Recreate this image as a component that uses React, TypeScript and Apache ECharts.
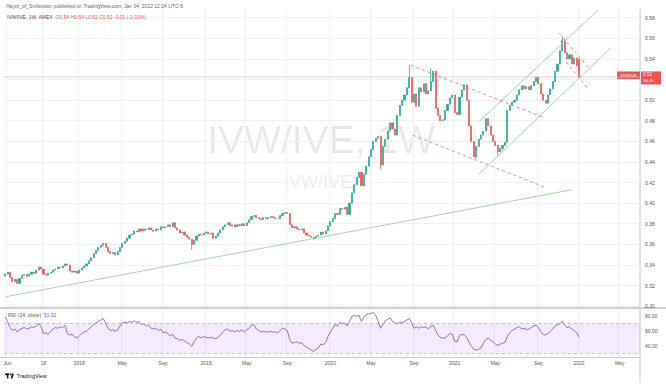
import React, { useEffect, useRef } from "react";
import * as echarts from "echarts";

const START_DATE = "2017-05-29";
const FUTURE_WEEKS = 25;
const FIRST_OPEN = 0.329;

const closes: number[] = [
  0.331, 0.333, 0.328, 0.324, 0.326, 0.322, 0.327, 0.33, 0.331, 0.329,
  0.331, 0.333, 0.332, 0.335, 0.338, 0.336, 0.331, 0.33, 0.332, 0.333,
  0.335, 0.336, 0.338, 0.337, 0.339, 0.341, 0.34, 0.334, 0.333, 0.334,
  0.332, 0.335, 0.337, 0.339, 0.341, 0.344, 0.347, 0.351, 0.354, 0.357,
  0.359, 0.361, 0.357, 0.353, 0.351, 0.352, 0.35, 0.353, 0.357, 0.361,
  0.363, 0.366, 0.369, 0.37, 0.373, 0.372, 0.375, 0.373, 0.375, 0.374,
  0.376, 0.374, 0.373, 0.375, 0.374, 0.377, 0.376, 0.377, 0.379, 0.377,
  0.381, 0.376, 0.374, 0.371, 0.372, 0.369, 0.367, 0.365, 0.36, 0.364,
  0.368, 0.37, 0.369, 0.371, 0.372, 0.37, 0.371, 0.366, 0.368, 0.371,
  0.374, 0.377, 0.379, 0.381, 0.378, 0.379, 0.377, 0.379, 0.378, 0.38,
  0.378, 0.381, 0.384, 0.387, 0.388, 0.386, 0.385, 0.384, 0.386, 0.385,
  0.386, 0.387, 0.386, 0.385, 0.385, 0.388, 0.39, 0.391, 0.39, 0.379,
  0.376, 0.377, 0.375, 0.374, 0.375, 0.371, 0.369, 0.368, 0.367, 0.366,
  0.368, 0.369, 0.372, 0.37, 0.373, 0.378, 0.382, 0.385, 0.39, 0.389,
  0.395, 0.394, 0.396, 0.389, 0.4, 0.41, 0.418, 0.425, 0.43, 0.417,
  0.428, 0.436, 0.445, 0.452, 0.46, 0.463, 0.465, 0.437, 0.455, 0.462,
  0.47, 0.478, 0.472, 0.466, 0.485, 0.495, 0.5, 0.505, 0.512, 0.522,
  0.498, 0.506, 0.494, 0.512, 0.508, 0.516, 0.506, 0.509, 0.518, 0.528,
  0.492, 0.485, 0.48, 0.481, 0.49, 0.496, 0.502, 0.505, 0.488, 0.486,
  0.503, 0.51, 0.515, 0.5, 0.475, 0.46, 0.445, 0.455, 0.462, 0.466,
  0.47, 0.482, 0.475, 0.466, 0.46, 0.456, 0.45, 0.453, 0.456, 0.459,
  0.49, 0.495, 0.498, 0.5, 0.505, 0.51, 0.514, 0.511, 0.513, 0.51,
  0.514, 0.518, 0.522, 0.516, 0.506, 0.5, 0.497, 0.505, 0.511, 0.518,
  0.528, 0.535, 0.548, 0.558, 0.546, 0.54, 0.544, 0.535, 0.541, 0.5332,
  0.5225,
];

const rsiValues: number[] = [
  78, 72, 64, 60, 62, 58, 61, 63, 64, 62,
  63, 65, 64, 66, 70, 65, 56, 57, 55, 59,
  62, 64, 63, 65, 64, 67, 56, 54, 55, 52,
  50, 53, 56, 58, 59, 62, 65, 68, 70, 72,
  74, 76, 70, 63, 60, 61, 59, 61, 66, 70,
  71, 70, 72, 71, 73, 70, 72, 68, 69, 66,
  67, 63, 62, 63, 60, 62, 57, 58, 56, 53,
  55, 50, 49, 47, 48, 46, 44, 42, 39, 45,
  50, 52, 50, 52, 51, 50, 51, 50, 49, 51,
  54, 58, 61, 62, 59, 60, 58, 60, 59, 61,
  58, 61, 63, 67, 68, 62, 60, 58, 59, 58,
  58, 59, 58, 58, 57, 60, 63, 62, 60, 48,
  43, 44, 45, 43, 44, 40, 38, 36, 34, 32,
  35, 37, 42, 41, 44, 52, 58, 63, 68, 66,
  71, 69, 70, 66, 72, 79, 80, 79, 80, 72,
  78, 81, 82, 83, 84, 80, 72, 63, 68, 73,
  75, 77, 72, 70, 69, 71, 70, 72, 74, 76,
  70, 63, 65, 63, 65, 64, 65, 62, 66, 67,
  60, 54, 51, 50, 50, 53, 56, 55, 46, 45,
  53, 55, 54, 51, 44, 39, 35, 34, 35, 37,
  43, 48, 50, 47, 45, 42, 40, 42, 43, 44,
  52, 57, 60, 62, 64, 65, 62, 63, 61, 62,
  64, 66, 67, 64, 58, 55, 54, 56, 59, 62,
  66, 68, 69, 73, 67, 64, 65, 62, 60, 57,
  51.32,
];

const openOverrideIndex = [240];
const openOverrideValue = [0.54];
const wickHighIndex = [169, 178, 233];
const wickHighValue = [0.534, 0.531, 0.562];
const wickLowIndex = [78, 129, 157, 197, 206];
const wickLowValue = [0.355, 0.364, 0.433, 0.443, 0.446];

const tickDates = [
  "2017-06-05", "2017-09-18", "2018-01-01", "2018-05-07", "2018-09-03", "2019-01-07",
  "2019-05-06", "2019-09-02", "2020-01-06", "2020-05-04", "2020-09-07", "2021-01-04",
  "2021-05-03", "2021-09-06", "2022-01-03", "2022-05-02",
];
const tickLabels = [
  "Jun", "18", "2018", "May", "Sep", "2019", "May", "Sep", "2020", "May", "Sep", "2021",
  "May", "Sep", "2022", "May",
];
const priceTicks = [0.3, 0.32, 0.34, 0.36, 0.38, 0.4, 0.42, 0.44, 0.46, 0.48, 0.5, 0.52, 0.54, 0.56, 0.58];
const priceLabels = [0.3, 0.32, 0.34, 0.36, 0.38, 0.4, 0.42, 0.44, 0.46, 0.48, 0.5, 0.54, 0.56, 0.58];
const rsiTicks = [40, 60, 80];

// drawn lines: [weekIndex, price] endpoints
const supportLine = [[0, 0.309], [237, 0.413]];
const redUpper = [[169.6, 0.534], [225.3, 0.483]];
const redLower = [[170.5, 0.466], [226.2, 0.415]];
const greenUpper = [[198.1, 0.479], [248, 0.5875]];
const greenLower = [[198.1, 0.428], [253.4, 0.551]];
const redSmallA = [[231.6, 0.565], [245, 0.529]];
const redSmallB = [[234.6, 0.537], [244.2, 0.51]];

const FONT = "Liberation Sans, Arial, sans-serif";
const UP = "#26a69a";
const DOWN = "#ef5350";

export default function App() {
  const ref = useRef<HTMLDivElement>(null);

  useEffect(() => {
    if (!ref.current) return;
    const chart = echarts.init(ref.current, null, { renderer: "svg" });

    const N = closes.length + FUTURE_WEEKS;
    const t0 = Date.parse(START_DATE + "T00:00:00Z");
    const categories = Array.from({ length: N }, (_, k) =>
      new Date(t0 + k * 7 * 86400000).toISOString().slice(0, 10)
    );

    const opens = closes.map((c, i) => {
      const k = openOverrideIndex.indexOf(i);
      if (k >= 0) return openOverrideValue[k];
      return i === 0 ? FIRST_OPEN : closes[i - 1];
    });
    const candles = closes.map((c, i) => {
      const o = opens[i];
      let lo = Math.min(o, c);
      let hi = Math.max(o, c);
      const hk = wickHighIndex.indexOf(i);
      if (hk >= 0) hi = Math.max(hi, wickHighValue[hk]);
      const lk = wickLowIndex.indexOf(i);
      if (lk >= 0) lo = Math.min(lo, wickLowValue[lk]);
      return [o, c, lo, hi];
    });

    const isTick = (_idx: number, val: string) => tickDates.indexOf(val) >= 0;
    const tickLabel = (val: string) => {
      const k = tickDates.indexOf(val);
      return k >= 0 ? tickLabels[k] : "";
    };

    const gridLine = { color: "#eff1f5", width: 1 };
    const lastIdx = closes.length - 1;
    const lastClose = closes[lastIdx];
    const lastOpen = opens[lastIdx];
    const prevClose = closes[lastIdx - 1];
    const lastHigh = candles[lastIdx][3];
    const lastLow = candles[lastIdx][2];
    const chg = lastClose - prevClose;
    const pct = (chg / prevClose) * 100;
    const lastRsi = rsiValues[rsiValues.length - 1];

    const seg = (pts: number[][], color: string, dashed: boolean) => ({
      type: "line",
      xAxisIndex: 2,
      yAxisIndex: 0,
      data: pts,
      symbol: "none",
      silent: true,
      z: 4,
      lineStyle: { color, width: 0.9, type: dashed ? [3, 3] : "solid" },
    });

    const option: any = {
      animation: false,
      textStyle: { fontFamily: FONT },
      grid: [
        { left: 4, right: 26, top: 10, height: 298 },
        { left: 4, right: 26, top: 309, height: 48 },
      ],
      xAxis: [
        {
          type: "category",
          gridIndex: 0,
          data: categories,
          axisLine: { show: false },
          axisTick: { show: false },
          axisLabel: { show: false },
          splitLine: { show: true, interval: isTick, lineStyle: gridLine },
        },
        {
          type: "category",
          gridIndex: 1,
          data: categories,
          axisLine: { show: false },
          axisTick: { show: false },
          axisLabel: {
            show: true,
            interval: isTick,
            formatter: tickLabel,
            fontSize: 5,
            color: "#555",
            margin: 3,
            fontFamily: FONT,
          },
          splitLine: { show: true, interval: isTick, lineStyle: gridLine },
        },
        { type: "value", gridIndex: 0, min: -0.5, max: N - 0.5, show: false },
      ],
      yAxis: [
        {
          type: "value",
          gridIndex: 0,
          position: "right",
          min: 0.2982,
          max: 0.5875,
          axisLine: { show: false },
          axisTick: { show: false, customValues: priceTicks },
          axisLabel: {
            customValues: priceLabels,
            formatter: (v: number) => v.toFixed(2),
            fontSize: 5,
            color: "#555",
            margin: 5,
            fontFamily: FONT,
          },
          splitLine: { show: true, lineStyle: gridLine },
        },
        {
          type: "value",
          gridIndex: 1,
          position: "right",
          min: 24.7,
          max: 88.7,
          axisLine: { show: false },
          axisTick: { show: false, customValues: rsiTicks },
          axisLabel: {
            customValues: rsiTicks,
            formatter: (v: number) => v.toFixed(2),
            fontSize: 5,
            color: "#555",
            margin: 5,
            fontFamily: FONT,
          },
          splitLine: { show: false },
        },
      ],
      series: [
        {
          type: "candlestick",
          xAxisIndex: 0,
          yAxisIndex: 0,
          data: candles,
          barWidth: 1.6,
          z: 3,
          itemStyle: {
            color: UP,
            color0: DOWN,
            borderColor: UP,
            borderColor0: DOWN,
            borderWidth: 0.7,
          },
        },
        {
          type: "line",
          xAxisIndex: 2,
          yAxisIndex: 0,
          data: [[-0.5, lastClose], [N - 0.5, lastClose]],
          symbol: "none",
          silent: true,
          z: 2,
          lineStyle: { color: "#c3c3c3", width: 0.7 },
        },
        seg(supportLine, "#9bd39e", false),
        seg(greenUpper, "#9bd39e", false),
        seg(greenLower, "#9bd39e", false),
        seg(redUpper, "#ef7a78", true),
        seg(redLower, "#ef7a78", true),
        seg(redSmallA, "#ef7a78", true),
        seg(redSmallB, "#ef7a78", true),
        {
          type: "line",
          xAxisIndex: 1,
          yAxisIndex: 1,
          data: rsiValues,
          symbol: "none",
          silent: true,
          lineStyle: { color: "#8a5cc8", width: 0.9 },
          markArea: {
            silent: true,
            itemStyle: { color: "rgba(160,90,220,0.12)" },
            data: [[{ yAxis: 30 }, { yAxis: 70 }]],
          },
          markLine: {
            silent: true,
            symbol: "none",
            label: { show: false },
            lineStyle: { color: "#a8a8b4", type: [3, 3], width: 0.6 },
            data: [{ yAxis: 70 }, { yAxis: 30 }],
          },
        },
      ],
    };

    chart.setOption(option);

    const yLast = chart.convertToPixel({ yAxisIndex: 0 } as any, lastClose) as number;

    const txt = (x: number, y: number, text: string, size: number, fill: string, align = "left", extra: any = {}) => ({
      type: "text",
      x,
      y,
      silent: true,
      style: {
        text,
        fill,
        fontSize: size,
        fontFamily: FONT,
        align,
        textAlign: align,
        verticalAlign: "middle",
        textVerticalAlign: "middle",
        ...extra,
      },
    });

    const graphic: any[] = [
      // watermark
      { ...txt(321, 139, "IVW/IVE, 1W", 39, "rgba(0,0,0,0.09)", "center"), z: -10 },
      { ...txt(318, 182, "IVW/IVE", 18, "rgba(0,0,0,0.09)", "center"), z: -10 },
      // header
      txt(6, 5.5, "Hayor_of_Smiletown published on TradingView.com, Jan 04, 2022 12:24 UTC-5", 5, "#666"),
      {
        type: "text",
        x: 7,
        y: 17,
        silent: true,
        style: {
          text:
            "{n|IVW/IVE, 1W, AMEX}  {g|O}{r|" + lastOpen.toFixed(2) + "} {g|H}{r|" + lastHigh.toFixed(2) +
            "} {g|L}{r|" + lastLow.toFixed(2) + "} {g|C}{r|" + lastClose.toFixed(2) + "} {r|" +
            chg.toFixed(2) + " (" + pct.toFixed(2) + "%)}",
          fontSize: 5,
          fontFamily: FONT,
          verticalAlign: "middle",
          textVerticalAlign: "middle",
          rich: {
            n: { fill: "#555", fontSize: 5, fontFamily: FONT },
            g: { fill: "#888", fontSize: 5, fontFamily: FONT },
            r: { fill: "#ef5350", fontSize: 5, fontFamily: FONT },
          },
        },
      },
      // RSI legend
      {
        type: "text",
        x: 8,
        y: 315,
        silent: true,
        style: {
          text: "{g|RSI (14, close)}  {p|" + lastRsi.toFixed(2) + "}",
          fontSize: 5,
          fontFamily: FONT,
          verticalAlign: "middle",
          textVerticalAlign: "middle",
          rich: {
            g: { fill: "#555", fontSize: 5, fontFamily: FONT },
            p: { fill: "#7e57c2", fontSize: 5, fontFamily: FONT },
          },
        },
      },
      // frame lines
      { type: "line", silent: true, shape: { x1: 640, y1: 9, x2: 640, y2: 383 }, style: { stroke: "#c9ccd4", lineWidth: 1 } },
      { type: "line", silent: true, shape: { x1: 0, y1: 308, x2: 666, y2: 308 }, style: { stroke: "#cfd1d6", lineWidth: 2 } },
      { type: "line", silent: true, shape: { x1: 0, y1: 357.5, x2: 640, y2: 357.5 }, style: { stroke: "#c9ccd4", lineWidth: 1 } },
      // last price labels
      { type: "rect", silent: true, shape: { x: 617, y: yLast - 5.5, width: 23, height: 7.5 }, style: { fill: DOWN } },
      txt(628.5, yLast - 1.8, "IVW/IVE", 4.3, "#fff", "center"),
      { type: "rect", silent: true, shape: { x: 641, y: yLast - 5.5, width: 20, height: 13 }, style: { fill: DOWN } },
      txt(643, yLast - 2.2, lastClose.toFixed(2), 4.6, "#fff"),
      txt(643, yLast + 3.8, "3d 4h", 4.3, "#fff"),
      // TradingView logo
      { type: "rect", silent: true, shape: { x: 5, y: 373.5, width: 4, height: 1.6 }, style: { fill: "#131722" } },
      { type: "rect", silent: true, shape: { x: 6.8, y: 373.5, width: 1.6, height: 5 }, style: { fill: "#131722" } },
      { type: "circle", silent: true, shape: { cx: 10.6, cy: 374.3, r: 0.9 }, style: { fill: "#131722" } },
      { type: "polygon", silent: true, shape: { points: [[12.2, 373.5], [14, 373.5], [12.4, 378.5], [10.6, 378.5]] }, style: { fill: "#131722" } },
      txt(16.5, 376.2, "TradingView", 5.5, "#131722"),
    ];

    chart.setOption({ graphic });

    return () => {
      chart.dispose();
    };
  }, []);

  return (
    <div
      ref={ref}
      style={{ position: "fixed", left: 0, top: 0, width: 666, height: 384, background: "#fff" }}
    />
  );
}
